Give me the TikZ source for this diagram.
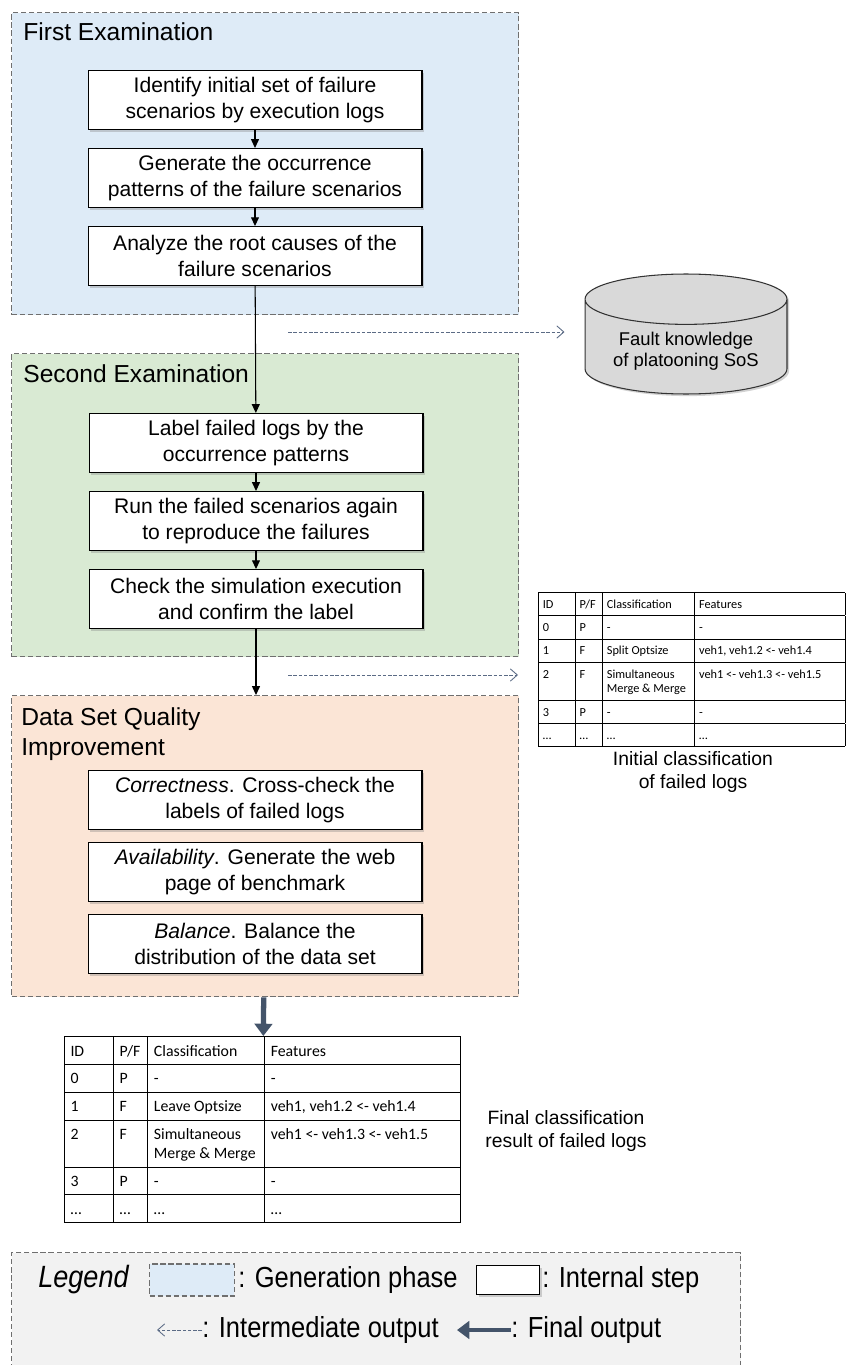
\documentclass[tikz,border=0pt]{standalone}
\usepackage{fontspec}
\setmainfont{Liberation Sans}
\newfontfamily\tabfont{Carlito}
\newfontfamily\narrowfont[FakeStretch=0.88]{Liberation Sans}
\usepackage{tikz}
\usetikzlibrary{shapes.geometric, arrows.meta, positioning, shadows}

\definecolor{phaseblue}{HTML}{DEEBF7}
\definecolor{phasegreen}{HTML}{D9EAD3}
\definecolor{phasepeach}{HTML}{FBE5D6}
\definecolor{legendgray}{HTML}{F2F2F2}
\definecolor{dbgray}{HTML}{D9D9D9}
\definecolor{borderdash}{HTML}{6F6F6F}
\definecolor{outblue}{HTML}{44546A}
\definecolor{intblue}{HTML}{5B6B85}

\begin{document}
\begin{tikzpicture}[x=0.02cm, y=-0.02cm, node distance=0.36cm]

% --- Define Styles ---
\tikzstyle{phase} = [rectangle, draw=borderdash, dash pattern=on 3pt off 1.6pt, line width=0.8pt, inner sep=0pt, anchor=north west, minimum width=10.14cm]
\tikzstyle{title} = [anchor=base west, inner sep=0pt, align=left, font=\fontsize{14}{17}\selectfont]
\tikzstyle{stepbox} = [rectangle, draw=black, line width=0.6pt, fill=white, minimum width=6.68cm, minimum height=1.18cm, align=center, inner sep=1pt, font=\fontsize{12}{14.5}\selectfont, drop shadow={shadow xshift=1.2pt, shadow yshift=-1.2pt, opacity=0.35}]
\tikzstyle{arrow} = [line width=0.6pt, -{Triangle[length=5pt, width=4.5pt]}]
\tikzstyle{interm} = [intblue, line width=0.5pt, dash pattern=on 2pt off 1pt, -{Straight Barb[length=4pt, width=7pt]}]
\tikzstyle{final} = [outblue, line width=3pt, -{Triangle[length=7pt, width=10pt]}]
\tikzstyle{caption} = [align=center, font=\fontsize{11}{12.6}\selectfont]
\tikzstyle{legendtext} = [anchor=west, inner sep=0pt, font=\narrowfont\fontsize{16.5}{18}\selectfont]

\useasboundingbox (0,0) rectangle (845,1365);
\fill[white] (0,0) rectangle (845,1365);

% --- Phases ---
\node (first) [phase, fill=phaseblue, minimum height=6.04cm] at (11,12) {};
\node (second) [phase, fill=phasegreen, minimum height=6.06cm] at (11,353) {};
\node (third) [phase, fill=phasepeach, minimum height=6.02cm] at (11,695) {};
\node (firstT) [title] at (23,41) {First Examination};
\node (secondT) [title] at (23,382) {Second Examination};
\node (thirdT) [title] at (21,755) {Data Set Quality\\Improvement};

% --- First Examination ---
\node (ident) [stepbox] at (255,100) {Identify initial set of failure\\scenarios by execution logs};
\node (gener) [stepbox, below=of ident] {Generate the occurrence\\patterns of the failure scenarios};
\node (analy) [stepbox, below=of gener] {Analyze the root causes of the\\failure scenarios};

% --- Second Examination ---
\node (label) [stepbox] at (256,443) {Label failed logs by the\\occurrence patterns};
\node (rerun) [stepbox, below=of label] {Run the failed scenarios again\\to reproduce the failures};
\node (confirm) [stepbox, below=of rerun] {Check the simulation execution\\and confirm the label};

% --- Data Set Quality Improvement ---
\node (correct) [stepbox] at (255,800) {\textit{Correctness}. Cross-check the\\labels of failed logs};
\node (avail) [stepbox, below=0.24cm of correct] {\textit{Availability}. Generate the web\\page of benchmark};
\node (balance) [stepbox, below=0.24cm of avail] {\textit{Balance}. Balance the\\distribution of the data set};

% --- Outputs ---
\node (db) [cylinder, shape border rotate=90, aspect=0.32, draw=black!80, line width=0.6pt, fill=dbgray, minimum width=4.04cm, minimum height=2.4cm, anchor=shape center, align=center, font=\fontsize{10.5}{12}\selectfont, drop shadow={shadow xshift=1.2pt, shadow yshift=-1.2pt, opacity=0.35}] at (686,334) {Fault knowledge\\of platooning SoS};

\node (tabI) [anchor=north west, inner sep=0pt, font=\tabfont\fontsize{7}{8.5}\selectfont] at (538,592) {%
\renewcommand{\arraystretch}{1.5}\setlength{\tabcolsep}{2.5pt}%
\begin{tabular}{|p{16pt}|p{10.5pt}|p{47.5pt}|p{80.5pt}|}
\hline
ID & P/F & Classification & Features\\ \hline
0 & P & - & -\\ \hline
1 & F & Split Optsize & veh1, veh1.2 <- veh1.4\\ \hline
2 & F & Simultaneous\newline Merge \& Merge & veh1 <- veh1.3 <- veh1.5\\ \hline
3 & P & - & -\\ \hline
\dots & \dots & \dots & \dots\\ \hline
\end{tabular}};
\node (capI) [caption] at (693,772) {Initial classification\\of failed logs};

\node (tabF) [anchor=north west, inner sep=0pt, font=\tabfont\fontsize{9}{11}\selectfont] at (64,1036) {%
\renewcommand{\arraystretch}{1.4}\setlength{\tabcolsep}{3.5pt}%
\begin{tabular}{|p{21pt}|p{12.5pt}|p{59.5pt}|p{104.5pt}|}
\hline
ID & P/F & Classification & Features\\ \hline
0 & P & - & -\\ \hline
1 & F & Leave Optsize & veh1, veh1.2 <- veh1.4\\ \hline
2 & F & Simultaneous\newline Merge \& Merge & veh1 <- veh1.3 <- veh1.5\\[3pt] \hline
3 & P & - & -\\ \hline
\dots & \dots & \dots & \dots\\ \hline
\end{tabular}};
\node (capF) [caption] at (566,1131) {Final classification\\result of failed logs};

% --- Arrows ---
\draw [arrow] (ident) -- (gener);
\draw [arrow] (gener) -- (analy);
\draw [arrow] (analy) -- (label);
\draw [arrow] (label) -- (rerun);
\draw [arrow] (rerun) -- (confirm);
\draw [arrow] (confirm) -- (confirm.south |- third.north);
\draw [final] (third) -- (tabF);
\coordinate (outFirst) at (288,332);
\coordinate (outSecond) at (288,675);
\draw [interm, shorten >=0.4cm] (outFirst) -- (outFirst -| db.west);
\draw [interm, shorten >=0.4cm] (outSecond) -- (outSecond -| tabI.west);

% --- Legend ---
\node (legend) [phase, fill=legendgray, minimum width=14.58cm, minimum height=2.56cm] at (11,1252) {};
\node (legTitle) [legendtext, font=\narrowfont\itshape\fontsize{17.5}{19}\selectfont] at (38,1280) {Legend};
\node (legPhase) [phase, fill=phaseblue, anchor=center, minimum width=1.7cm, minimum height=0.64cm] at (192,1280) {};
\node (legPhaseT) [legendtext] at (238,1280) {: Generation phase};
\node (legStep) [stepbox, minimum width=1.26cm, minimum height=0.58cm] at (508,1280) {};
\node (legStepT) [legendtext] at (542,1280) {: Internal step};
\node (legInt) [legendtext] at (202,1330) {: Intermediate output};
\coordinate (legIntTip) at (157,1330);
\draw [interm] (legInt) -- (legIntTip);
\node (legFin) [legendtext] at (511,1330) {: Final output};
\coordinate (legFinTip) at (457,1330);
\draw [final, line width=2pt] (legFin) -- (legFinTip);

\end{tikzpicture}
\end{document}
